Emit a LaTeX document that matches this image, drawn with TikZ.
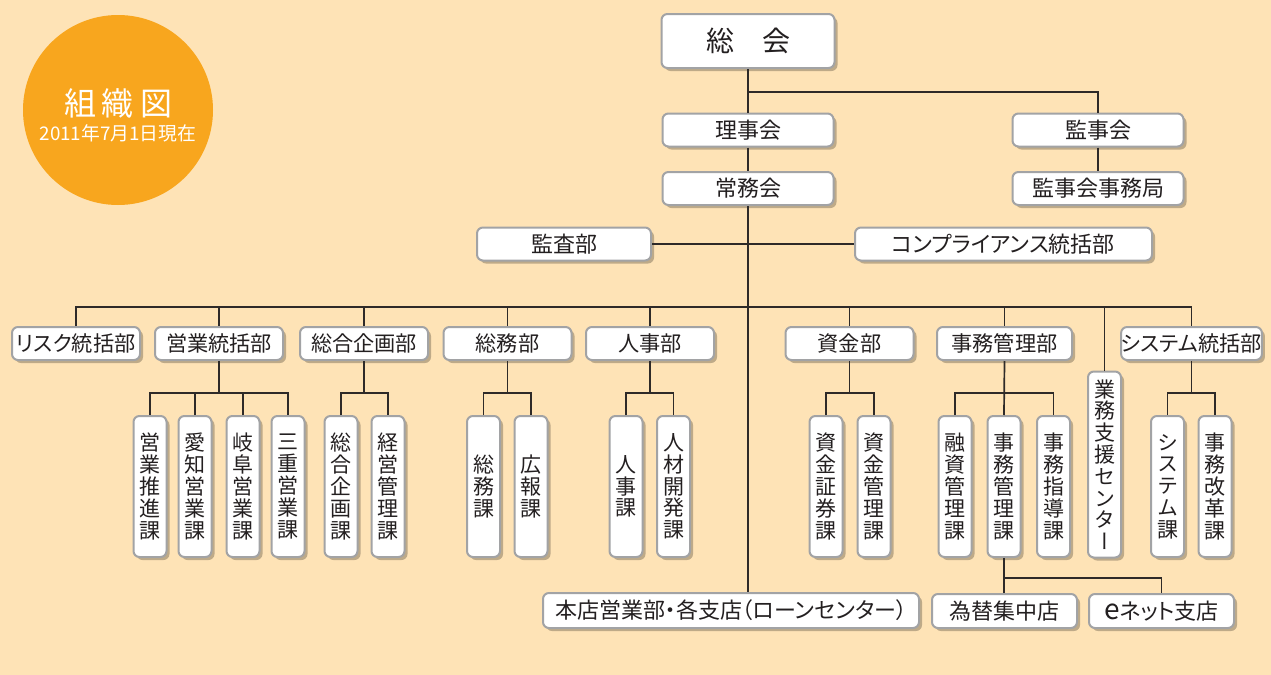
\documentclass[tikz,border=0pt]{standalone}
\usepackage{fontspec}
\setmainfont[RawFeature=+palt]{Noto Sans CJK JP}
\newfontfamily\tatefont[RawFeature=+vert]{Noto Sans CJK JP}
\usetikzlibrary{shadows}

\definecolor{haikei}{HTML}{FEE3B6}
\definecolor{maru}{HTML}{F8A61E}
\definecolor{waku}{HTML}{A2A3A5}
\definecolor{sen}{HTML}{2E2A28}
\definecolor{moji}{HTML}{231F20}

\begin{document}
\begin{tikzpicture}[x=0.5pt, y=-0.5pt,
  box/.style={draw=waku, line width=1pt, fill=white, rounded corners=3pt, inner sep=0pt, text=moji,
    font=\fontsize{11}{11}\selectfont,
    drop shadow={shadow xshift=1.5pt, shadow yshift=-1.5pt, fill=black, opacity=0.25}},
  kai/.style={box, minimum width=85.5pt, minimum height=16.5pt},
  bu/.style={box, minimum width=64pt, minimum height=16.5pt, font=\fontsize{10.6}{10.6}\selectfont},
  ka/.style={box, minimum width=16.5pt, minimum height=70.5pt, align=center,
    font=\tatefont\fontsize{10.5}{10.9}\selectfont},
  line/.style={draw=sen, line width=0.85pt}]

\useasboundingbox (0,0) rectangle (1271,675);
\fill[haikei] (0,0) rectangle (1271,675);

% title circle
\fill[maru] (118,110) circle[radius=47.5pt];
\node[text=white, font=\fontsize{16}{16}\selectfont] (title) at (118,103) {組\hspace{3pt}織\hspace{3pt}図};
\node[text=white, font=\fontsize{9.4}{9.4}\selectfont] (date) at (118,133) {2011年7月1日現在};

% top
\node[box, minimum width=86.5pt, minimum height=27pt, font=\fontsize{14}{14}\selectfont] (soukai) at (748,41) {総　会};
\node[kai] (rijikai) at (748,130) {理事会};
\node[kai] (joumu) at (748,188.5) {常務会};
\node[kai] (kanjikai) at (1098,130) {監事会};
\node[kai] (kanjikyoku) at (1098,188.5) {監事会事務局};
\node[box, minimum width=87pt, minimum height=16.5pt] (kansa) at (564,244) {監査部};
\node[box, minimum width=148.5pt, minimum height=16.5pt] (comp) at (1003.5,244) {コンプライアンス統括部};

% departments
\node[bu] (risk) at (76,343.5) {リスク統括部};
\node[bu] (eigyo) at (219,343.5) {営業統括部};
\node[bu] (kikaku) at (364,343.5) {総合企画部};
\node[bu] (somu) at (507.5,343.5) {総務部};
\node[bu] (jinji) at (650,343.5) {人事部};
\node[bu] (shikin) at (849.5,343.5) {資金部};
\node[bu, minimum width=67.5pt] (jimu) at (1004.5,343.5) {事務管理部};
\node[ka, minimum height=93pt] (shien) at (1104.5,464.5) {業\\務\\支\\援\\セ\\ン\\タ\\ー};
\node[bu, minimum width=68.5pt] (system) at (1191.5,343.5) {システム統括部};

% sections
\node[ka] (e1) at (150,486.5) {営\\業\\推\\進\\課};
\node[ka] (e2) at (195,486.5) {愛\\知\\営\\業\\課};
\node[ka] (e3) at (243,486.5) {岐\\阜\\営\\業\\課};
\node[ka] (e4) at (288,486.5) {三\\重\\営\\業\\課};
\node[ka] (k1) at (341,486.5) {総\\合\\企\\画\\課};
\node[ka] (k2) at (388,486.5) {経\\営\\管\\理\\課};
\node[ka] (s1) at (483.5,486.5) {総\\務\\課};
\node[ka] (s2) at (531,486.5) {広\\報\\課};
\node[ka] (h1) at (626,486.5) {人\\事\\課};
\node[ka] (h2) at (673.5,486.5) {人\\材\\開\\発\\課};
\node[ka] (m1) at (826,486.5) {資\\金\\証\\券\\課};
\node[ka] (m2) at (874,486.5) {資\\金\\管\\理\\課};
\node[ka] (j1) at (955,486.5) {融\\資\\管\\理\\課};
\node[ka] (j2) at (1004,486.5) {事\\務\\管\\理\\課};
\node[ka] (j3) at (1053.5,486.5) {事\\務\\指\\導\\課};
\node[ka] (y1) at (1167.5,486.5) {シ\\ス\\テ\\ム\\課};
\node[ka] (y2) at (1215,486.5) {事\\務\\改\\革\\課};

% bottom
\node[box, minimum width=188pt, minimum height=17.5pt] (honten) at (731,610.5) {本店営業部・各支店（ローンセンター）};
\node[box, minimum width=72.5pt, minimum height=17pt] (kawase) at (1004.5,611) {為替集中店};
\node[box, minimum width=72.5pt, minimum height=17pt] (enet) at (1161.5,611) {{\fontsize{14}{14}\selectfont e}ネット支店};

% connectors
\coordinate (sb) at (748,92);
\coordinate (bb) at (748,307);
\coordinate (eb) at (219,393);
\coordinate (kb) at (364,393);
\coordinate (sob) at (507.5,393);
\coordinate (hb) at (650,393);
\coordinate (mb) at (849.5,393);
\coordinate (jb) at (1004,393);
\coordinate (yb) at (1191.5,393);
\coordinate (tb) at (1004,578);

\draw[line] (soukai.south) -- (rijikai.north);
\draw[line] (sb) -| (kanjikai.north);
\draw[line] (rijikai.south) -- (joumu.north);
\draw[line] (kanjikai.south) -- (kanjikyoku.north);
\draw[line] (kansa.east) -- (comp.west);
\draw[line, line width=1pt] (joumu.south) -- (joumu.south |- honten.north);

\draw[line] (risk.north) |- (bb) -| (system.north);
\foreach \b in {eigyo,kikaku,somu,jinji,shikin,jimu,shien}
  \draw[line] (\b.north) -- (\b.north |- bb);

\draw[line] (eigyo.south) -- (eb);
\draw[line] (e1.north) |- (eb) -| (e4.north);
\draw[line] (e2.north) -- (e2.north |- eb);
\draw[line] (e3.north) -- (e3.north |- eb);
\draw[line] (kikaku.south) -- (kb);
\draw[line] (k1.north) |- (kb) -| (k2.north);
\draw[line] (somu.south) -- (sob);
\draw[line] (s1.north) |- (sob) -| (s2.north);
\draw[line] (jinji.south) -- (hb);
\draw[line] (h1.north) |- (hb) -| (h2.north);
\draw[line] (shikin.south) -- (mb);
\draw[line] (m1.north) |- (mb) -| (m2.north);
\draw[line] (jimu.south) -- (j2.north);
\draw[line] (j1.north) |- (jb) -| (j3.north);
\draw[line] (system.south) -- (yb);
\draw[line] (y1.north) |- (yb) -| (y2.north);

\draw[line] (j2.south) -- (j2.south |- kawase.north);
\draw[line] (tb) -| (enet.north);

\end{tikzpicture}
\end{document}
